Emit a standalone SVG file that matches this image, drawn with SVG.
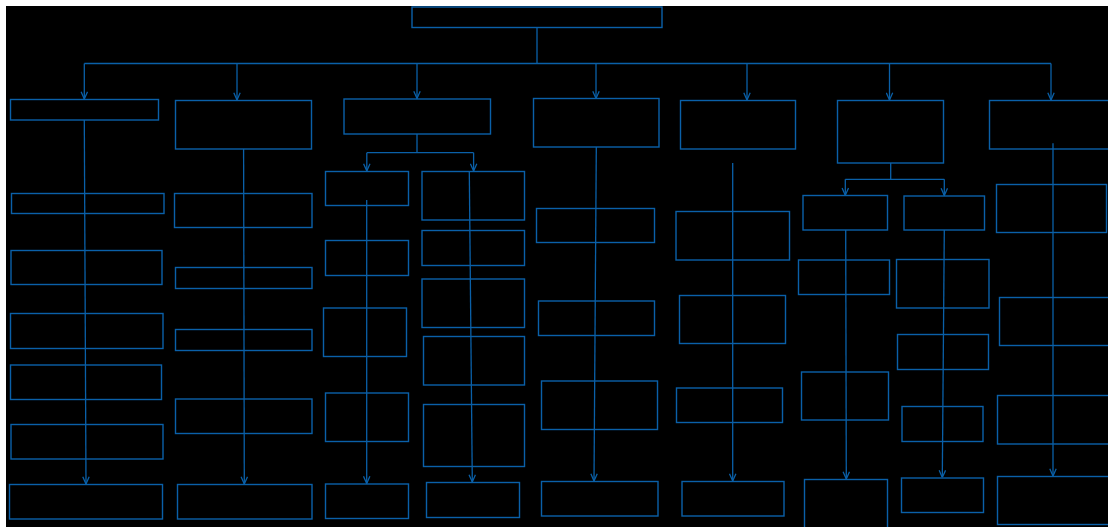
<svg xmlns="http://www.w3.org/2000/svg" width="1108" height="527" viewBox="0 0 1108 527">
<defs>
<style>
.n{fill:none;stroke:#0a60a8;stroke-width:1.4}
.c{fill:none;stroke:#0a60a8;stroke-width:1.3}
.a{marker-end:url(#ah)}
</style>
<marker id="ah" viewBox="0 0 10 10" refX="10" refY="5" markerWidth="8" markerHeight="8" markerUnits="userSpaceOnUse" orient="auto">
<path d="M1,1 L10,5 L1,9" fill="none" stroke="#0a60a8" stroke-width="1.6"/>
</marker>
</defs>
<rect x="0" y="0" width="1108" height="527" fill="#ffffff"/>
<rect x="6" y="6" width="1102" height="521" fill="#000000"/>
<g id="root"><rect class="n" x="412" y="7" width="250" height="20.5"/></g>
<g id="l1-1"><rect class="n" x="10.5" y="99.5" width="148" height="20.5"/></g>
<g id="l1-2"><rect class="n" x="175.5" y="100.5" width="136" height="48.5"/></g>
<g id="l1-3"><rect class="n" x="344" y="99" width="146.5" height="35"/></g>
<g id="l1-4"><rect class="n" x="533.5" y="98.5" width="125.5" height="48.5"/></g>
<g id="l1-5"><rect class="n" x="680.5" y="100.5" width="115" height="48.5"/></g>
<g id="l1-6"><rect class="n" x="837.5" y="100.5" width="106" height="62.5"/></g>
<g id="l1-7"><rect class="n" x="989.5" y="100.5" width="125" height="48.5"/></g>
<g id="c1-a"><rect class="n" x="11.5" y="193.5" width="152.5" height="20"/></g>
<g id="c1-b"><rect class="n" x="11" y="250.5" width="151" height="34"/></g>
<g id="c1-c"><rect class="n" x="10.5" y="313.5" width="152.5" height="35"/></g>
<g id="c1-d"><rect class="n" x="10.5" y="365" width="151" height="34.5"/></g>
<g id="c1-e"><rect class="n" x="11" y="424.5" width="152" height="34.5"/></g>
<g id="c1-f"><rect class="n" x="9.5" y="484.5" width="153" height="34.5"/></g>
<g id="c2-a"><rect class="n" x="174.5" y="193.5" width="137.5" height="34"/></g>
<g id="c2-b"><rect class="n" x="175.5" y="267.5" width="136.5" height="21"/></g>
<g id="c2-c"><rect class="n" x="175.5" y="329.5" width="136.5" height="21"/></g>
<g id="c2-d"><rect class="n" x="175.5" y="399" width="136.5" height="34.5"/></g>
<g id="c2-e"><rect class="n" x="177.5" y="484.5" width="134.5" height="34.5"/></g>
<g id="c3a-a"><rect class="n" x="325.5" y="171.5" width="83" height="34"/></g>
<g id="c3a-b"><rect class="n" x="325.5" y="240.5" width="83" height="35"/></g>
<g id="c3a-c"><rect class="n" x="323.5" y="308" width="83" height="48.5"/></g>
<g id="c3a-d"><rect class="n" x="325.5" y="393" width="83" height="48.5"/></g>
<g id="c3a-e"><rect class="n" x="325.5" y="484" width="83" height="34.5"/></g>
<g id="c3b-a"><rect class="n" x="422" y="171.5" width="102.5" height="48.5"/></g>
<g id="c3b-b"><rect class="n" x="422" y="230.5" width="102.5" height="35"/></g>
<g id="c3b-c"><rect class="n" x="422" y="279" width="102.5" height="48.5"/></g>
<g id="c3b-d"><rect class="n" x="423.5" y="336.5" width="101" height="48.5"/></g>
<g id="c3b-e"><rect class="n" x="423.5" y="404.5" width="101" height="62"/></g>
<g id="c3b-f"><rect class="n" x="426.5" y="482.5" width="93" height="35"/></g>
<g id="c4-a"><rect class="n" x="536.5" y="208.5" width="118" height="34"/></g>
<g id="c4-b"><rect class="n" x="538.5" y="301" width="116" height="34.5"/></g>
<g id="c4-c"><rect class="n" x="541.5" y="381" width="116" height="48.5"/></g>
<g id="c4-d"><rect class="n" x="541.5" y="481.5" width="116.5" height="34.5"/></g>
<g id="c5-a"><rect class="n" x="676" y="211.5" width="113.5" height="48.5"/></g>
<g id="c5-b"><rect class="n" x="679.5" y="295.5" width="106" height="48"/></g>
<g id="c5-c"><rect class="n" x="676.5" y="388" width="106" height="34.5"/></g>
<g id="c5-d"><rect class="n" x="682" y="481.5" width="102" height="34.5"/></g>
<g id="c6a-a"><rect class="n" x="803" y="195.5" width="84.5" height="34.5"/></g>
<g id="c6a-b"><rect class="n" x="798.5" y="260" width="91" height="34.5"/></g>
<g id="c6a-c"><rect class="n" x="801.5" y="372" width="87" height="48"/></g>
<g id="c6a-d"><rect class="n" x="804.5" y="479.5" width="83" height="60"/></g>
<g id="c6b-a"><rect class="n" x="904" y="196" width="80.5" height="34"/></g>
<g id="c6b-b"><rect class="n" x="896.5" y="259.5" width="92.5" height="48.5"/></g>
<g id="c6b-c"><rect class="n" x="897.5" y="334.5" width="91" height="35"/></g>
<g id="c6b-d"><rect class="n" x="902" y="406.5" width="81" height="35"/></g>
<g id="c6b-e"><rect class="n" x="901.5" y="478" width="82" height="34.5"/></g>
<g id="c7-a"><rect class="n" x="996.5" y="184.5" width="110" height="48"/></g>
<g id="c7-b"><rect class="n" x="999.5" y="297.5" width="120" height="48"/></g>
<g id="c7-c"><rect class="n" x="997.5" y="395.5" width="120" height="48.5"/></g>
<g id="c7-d"><rect class="n" x="997.5" y="476.5" width="120" height="48"/></g>
<g id="connectors">
<path class="c" d="M537,27.5 V63.5 M84.3,63.5 H1051"/>
<path class="c a" d="M84.3,63.5 V99"/>
<path class="c a" d="M237,63.5 V100"/>
<path class="c a" d="M417,63.5 V98.5"/>
<path class="c a" d="M596,63.5 V98.5"/>
<path class="c a" d="M747,63.5 V100"/>
<path class="c a" d="M889.5,63.5 V100"/>
<path class="c a" d="M1051,63.5 V100"/>
<path class="c" d="M417,134 V152.7 M366.8,152.7 H473.6"/>
<path class="c a" d="M366.8,152.7 V171"/>
<path class="c a" d="M473.6,152.7 V171"/>
<path class="c" d="M890.7,163 V179.3 M845.3,179.3 H944.3"/>
<path class="c a" d="M845.3,179.3 V195.3"/>
<path class="c a" d="M944.3,179.3 V195.5"/>
<path class="c a" d="M84.3,120 L86,484"/>
<path class="c a" d="M243.6,149 L244.3,484"/>
<path class="c a" d="M366.7,200 L366.7,483.5"/>
<path class="c a" d="M469.3,172 L472.3,482"/>
<path class="c a" d="M596.3,147 L594,481"/>
<path class="c a" d="M732.7,163 L732.7,481"/>
<path class="c a" d="M845.7,230 L846.3,479"/>
<path class="c a" d="M944.3,230 L942.3,477.5"/>
<path class="c a" d="M1053,143.3 L1053,476"/>
</g>
</svg>
